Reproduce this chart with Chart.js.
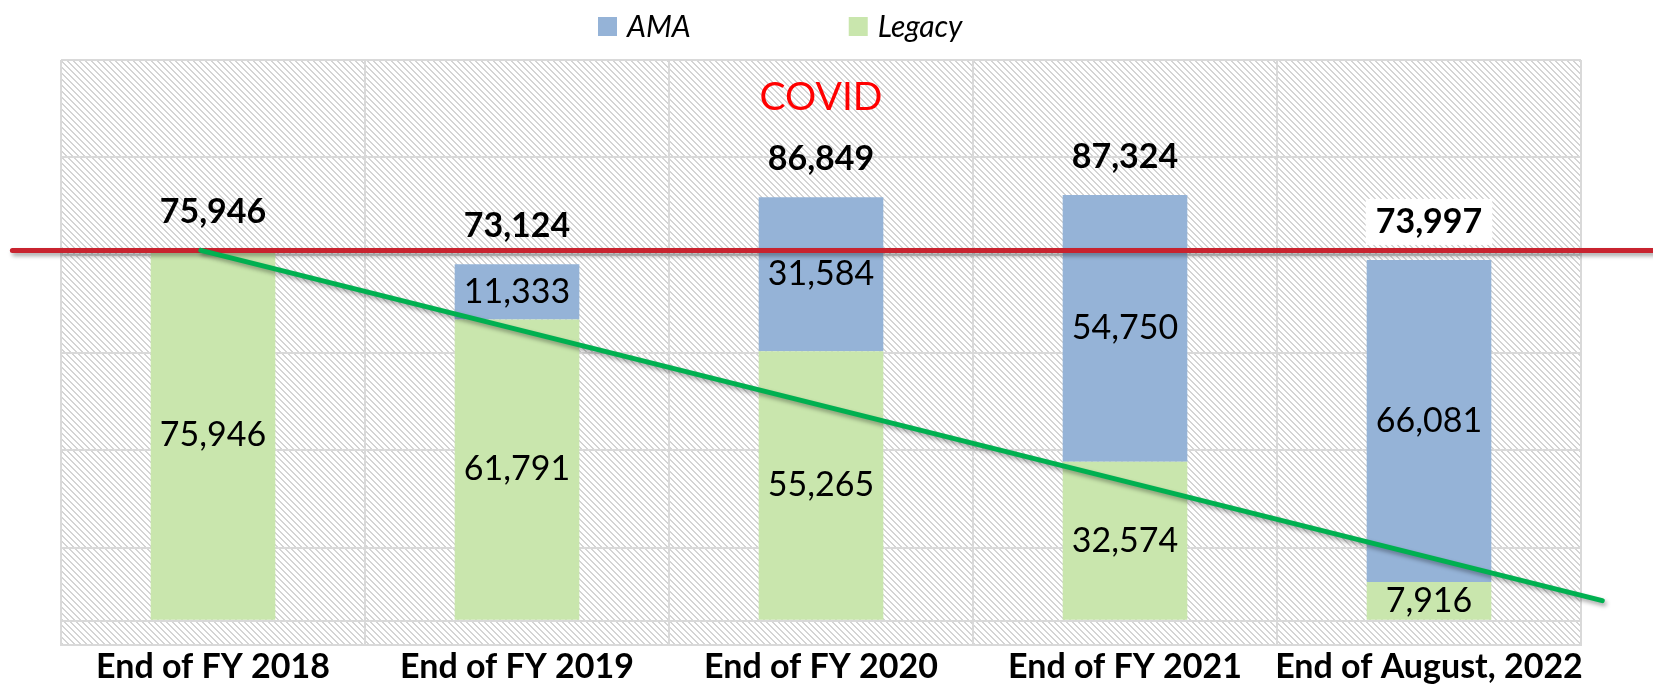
<!DOCTYPE html>
<html>
<head>
<meta charset="utf-8">
<script src="https://cdn.jsdelivr.net/npm/chart.js@4"></script>
<style>
  html, body { margin: 0; padding: 0; background: #fff; }
  #wrap { width: 1653px; height: 684px; }
</style>
</head>
<body>
<div id="wrap"><canvas id="myChart"></canvas></div>
<script>
// Categories and values
const labels = ['End of FY 2018', 'End of FY 2019', 'End of FY 2020', 'End of FY 2021', 'End of August, 2022'];
const legacyValues = [75946, 61791, 55265, 32574, 7916];
const amaValues = [0, 11333, 31584, 54750, 66081];
const totalValues = [75946, 73124, 86849, 87324, 73997];
const yTicks = [-5000, 0, 15000, 35000, 55000, 75000, 95000, 115000];

// Annotations (category index, value)
const covidNote = { text: 'COVID', index: 2, value: 107300 };
const redLine = { value: 75946, from: -0.66, to: 4.8 };
const trendLine = { from: [-0.04, 75946], to: [4.57, 4100] };

const legacyColor = '#C9E6AD';
const amaColor = '#95B3D7';

const ctx = document.querySelector('#myChart').getContext('2d');

// Hatched plot background
const hatch = document.createElement('canvas');
hatch.width = 6;
hatch.height = 6;
const hctx = hatch.getContext('2d');
hctx.fillStyle = '#ffffff';
hctx.fillRect(0, 0, 6, 6);
hctx.fillStyle = '#d4d4d4';
for (let i = 0; i < 6; i++) {
    hctx.fillRect(i, i, 1, 1);
    hctx.fillRect((i + 1) % 6, i, 1, 1);
}

const hatchBackground = {
    id: 'hatchBackground',
    beforeDraw(chart) {
        const { ctx, chartArea: a } = chart;
        ctx.save();
        ctx.fillStyle = ctx.createPattern(hatch, 'repeat');
        ctx.fillRect(a.left, a.top, a.right - a.left, a.bottom - a.top);
        ctx.restore();
    },
};

// Red reference line, green trend line, COVID note
const overlayLines = {
    id: 'overlayLines',
    afterDatasetsDraw(chart) {
        const { ctx, scales: { x, y } } = chart;
        ctx.save();
        ctx.lineCap = 'round';
        ctx.shadowColor = 'rgba(0,0,0,0.35)';
        ctx.shadowBlur = 4;
        ctx.shadowOffsetX = 2;
        ctx.shadowOffsetY = 3;

        ctx.strokeStyle = '#C8232F';
        ctx.lineWidth = 5;
        ctx.beginPath();
        ctx.moveTo(x.getPixelForValue(redLine.from), y.getPixelForValue(redLine.value));
        ctx.lineTo(x.getPixelForValue(redLine.to), y.getPixelForValue(redLine.value));
        ctx.stroke();

        ctx.strokeStyle = '#00B050';
        ctx.beginPath();
        ctx.moveTo(x.getPixelForValue(trendLine.from[0]), y.getPixelForValue(trendLine.from[1]));
        ctx.lineTo(x.getPixelForValue(trendLine.to[0]), y.getPixelForValue(trendLine.to[1]));
        ctx.stroke();
        ctx.restore();

        ctx.save();
        ctx.font = '39px Lato';
        ctx.fillStyle = '#FF0000';
        ctx.textAlign = 'center';
        ctx.textBaseline = 'middle';
        ctx.fillText(covidNote.text, x.getPixelForValue(covidNote.index), y.getPixelForValue(covidNote.value));
        ctx.restore();
    },
};

// Value labels inside segments and bold totals on top
const fmt = (v) => v.toLocaleString('en-US');
const valueLabels = {
    id: 'valueLabels',
    afterDraw(chart) {
        const { ctx } = chart;
        ctx.save();
        ctx.textAlign = 'center';
        ctx.textBaseline = 'middle';
        ctx.fillStyle = '#000';
        ctx.font = '34px Lato';
        chart.data.datasets.forEach((ds, di) => {
            chart.getDatasetMeta(di).data.forEach((bar, i) => {
                const v = ds.data[i];
                if (!v) return;
                ctx.fillText(fmt(v), bar.x, (bar.y + bar.base) / 2);
            });
        });
        const top = chart.getDatasetMeta(chart.data.datasets.length - 1).data;
        ctx.font = 'bold 34px Lato';
        top.forEach((bar, i) => {
            const txt = fmt(totalValues[i]);
            const ty = bar.y - 38;
            if (i === top.length - 1) {
                const w = ctx.measureText(txt).width;
                ctx.fillStyle = '#fff';
                ctx.fillRect(bar.x - w / 2 - 10, ty - 23, w + 20, 46);
                ctx.fillStyle = '#000';
            }
            ctx.fillText(txt, bar.x, ty);
        });
        ctx.restore();
    },
};

// Legend drawn at the top, AMA first
const topLegend = {
    id: 'topLegend',
    afterDraw(chart) {
        const { ctx } = chart;
        const items = chart.data.datasets.slice().reverse();
        ctx.save();
        ctx.font = 'italic 30px Lato';
        ctx.textBaseline = 'middle';
        let px = 598;
        const cy = 27;
        items.forEach((ds) => {
            ctx.fillStyle = ds.backgroundColor;
            ctx.fillRect(px, cy - 10, 19, 19);
            ctx.fillStyle = '#000';
            ctx.fillText(ds.label, px + 29, cy);
            px += 29 + ctx.measureText(ds.label).width + 158;
        });
        ctx.restore();
    },
};

const data = {
    labels,
    datasets: [
        {
            label: 'Legacy',
            data: legacyValues,
            backgroundColor: legacyColor,
            stack: 'a',
        },
        {
            label: 'AMA',
            data: amaValues,
            backgroundColor: amaColor,
            stack: 'a',
        },
    ],
};

const config = {
    type: 'bar',
    data: data,
    options: {
        responsive: true,
        maintainAspectRatio: false,
        animation: false,
        categoryPercentage: 1,
        barPercentage: 0.41,
        layout: {
            padding: { top: 60, left: 61, right: 72, bottom: -5 },
        },
        plugins: {
            legend: { display: false },
            tooltip: { enabled: false },
        },
        scales: {
            x: {
                stacked: true,
                grid: { color: '#d9d9d9', lineWidth: 2, drawTicks: false, offset: true },
                border: { color: '#d9d9d9', width: 2 },
                ticks: {
                    color: '#000',
                    padding: 5,
                    font: { family: 'Lato', size: 34, weight: 'bold', lineHeight: 1 },
                    maxRotation: 0,
                    autoSkip: false,
                },
            },
            y: {
                stacked: true,
                min: -5000,
                max: 115000,
                afterBuildTicks: (scale) => {
                    scale.ticks = yTicks.map((v) => ({ value: v }));
                },
                grid: { color: '#d9d9d9', lineWidth: 2, drawTicks: false },
                border: { display: false },
                ticks: { display: false },
            },
        },
    },
    plugins: [hatchBackground, overlayLines, valueLabels, topLegend],
};

const myChart = new Chart(ctx, config);
</script>
</body>
</html>
